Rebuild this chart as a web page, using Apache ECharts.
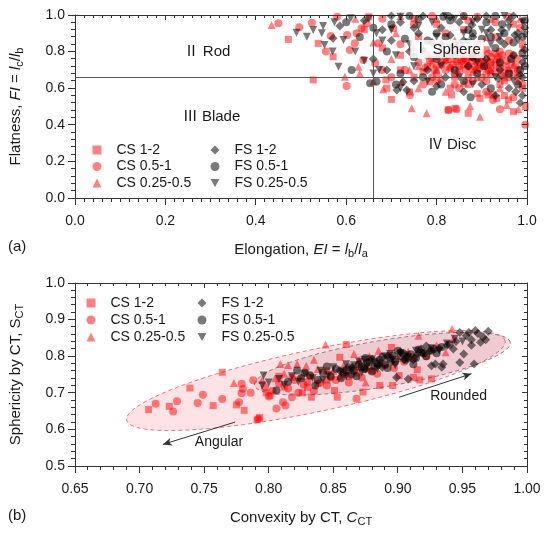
<!DOCTYPE html>
<html>
<head>
<meta charset="utf-8">
<script src="https://cdn.jsdelivr.net/npm/echarts@6/dist/echarts.min.js"></script>
<style>
  html, body { margin: 0; padding: 0; background: #fff; }
  #chart { width: 550px; height: 533px; }
</style>
</head>
<body>
<div id="chart"></div>
<script>
// ---- panel (a): elongation vs flatness ----
const ticksElong = [0, 0.2, 0.4, 0.6, 0.8, 1.0];
const ticksFlat = [0, 0.2, 0.4, 0.6, 0.8, 1.0];
const shapeCS12 = [
  [0.472,0.867],[0.527,0.645],[0.538,0.845],[0.571,0.772],[0.64,0.92],[0.68,0.82],[0.688,0.645],[0.69,0.60],
  [0.70,0.539],[0.72,0.70],[0.72,0.78],[0.74,0.58],[0.75,0.66],[0.76,0.88],[0.78,0.72],[0.785,0.635],
  [0.80,0.68],[0.80,0.95],[0.82,0.75],[0.826,0.481],[0.83,0.60],[0.833,0.563],[0.841,0.49],[0.84,0.82],
  [0.85,0.70],[0.86,0.92],[0.87,0.463],[0.87,0.62],[0.88,0.78],[0.89,0.57],[0.896,0.545],[0.90,0.66],
  [0.91,0.81],[0.914,0.563],[0.92,0.72],[0.933,0.545],[0.93,0.88],[0.94,0.62],[0.95,0.56],[0.959,0.536],
  [0.96,0.70],[0.97,0.472],[0.97,0.95],[0.98,0.76],[0.99,0.60],[0.99,0.84],[0.996,0.50],
  [0.77,0.69],[0.81,0.73],[0.84,0.66],[0.86,0.76],[0.88,0.70],[0.90,0.74],[0.92,0.68],[0.94,0.76],
  [0.95,0.64],[0.97,0.68],[0.83,0.79],[0.87,0.81],[0.79,0.76],[0.93,0.79],[0.65,0.99],[0.75,0.98]
];
const shapeCS051 = [
  [0.45,0.955],[0.496,0.933],[0.524,0.958],[0.555,0.80],[0.566,0.885],[0.601,0.612],[0.602,0.891],[0.608,0.809],
  [0.619,0.845],[0.623,0.90],[0.634,0.927],[0.638,0.754],[0.645,0.954],[0.664,0.736],[0.671,0.845],[0.68,0.70],
  [0.70,0.66],[0.704,0.927],[0.72,0.84],[0.73,0.70],[0.741,0.563],[0.75,0.95],[0.76,0.74],[0.77,0.62],
  [0.78,0.78],[0.79,0.66],[0.80,0.72],[0.81,0.80],[0.82,0.70],[0.82,0.90],[0.826,0.481],[0.83,0.76],
  [0.835,0.73],[0.84,0.68],[0.844,0.485],[0.85,0.79],[0.85,0.60],[0.855,0.75],[0.86,0.73],[0.865,0.70],
  [0.87,0.66],[0.87,0.97],[0.875,0.77],[0.88,0.75],[0.885,0.72],[0.89,0.70],[0.89,0.84],[0.90,0.78],
  [0.905,0.74],[0.91,0.64],[0.91,0.58],[0.915,0.70],[0.92,0.74],[0.925,0.536],[0.925,0.563],[0.93,0.69],
  [0.93,0.96],[0.935,0.77],[0.94,0.80],[0.94,0.485],[0.945,0.67],[0.95,0.72],[0.96,0.66],[0.96,0.86],
  [0.965,0.74],[0.97,0.78],[0.97,0.55],[0.98,0.70],[0.985,0.93],[0.99,0.62],[0.996,0.40],
  [0.775,0.71],[0.785,0.75],[0.795,0.70],[0.805,0.77],[0.815,0.74],[0.825,0.78],[0.83,0.71],[0.845,0.745],
  [0.85,0.72],[0.86,0.78],[0.865,0.75],[0.87,0.72],[0.88,0.79],[0.885,0.76],[0.89,0.74],[0.895,0.71],
  [0.90,0.76],[0.91,0.72],[0.915,0.79],[0.92,0.77],[0.93,0.73],[0.94,0.71],[0.945,0.78],[0.955,0.75],
  [0.96,0.79],[0.975,0.72],[0.98,0.66],[0.84,0.62],[0.88,0.64],[0.91,0.68],[0.95,0.68],[0.80,0.64],
  [0.68,0.98],[0.58,0.99],[0.79,0.995],[0.89,0.99],[0.96,0.99]
];
const shapeCS02505 = [
  [0.435,0.945],[0.597,0.663],[0.62,0.98],[0.627,0.717],[0.63,0.681],[0.66,0.636],[0.66,0.85],[0.682,0.594],
  [0.70,0.76],[0.71,0.90],[0.723,0.636],[0.74,0.70],[0.745,0.49],[0.745,0.827],[0.76,0.60],[0.77,0.82],
  [0.778,0.463],[0.79,0.74],[0.80,0.98],[0.81,0.66],[0.82,0.58],[0.83,0.72],[0.84,0.86],[0.845,0.76],
  [0.86,0.77],[0.86,0.63],[0.874,0.503],[0.88,0.69],[0.89,0.80],[0.896,0.444],[0.90,0.73],[0.91,0.88],
  [0.915,0.76],[0.92,0.98],[0.93,0.76],[0.94,0.60],[0.95,0.66],[0.955,0.508],[0.97,0.73],[0.981,0.485],
  [0.985,0.98],[0.99,0.82],
  [0.80,0.70],[0.82,0.76],[0.85,0.68],[0.87,0.74],[0.89,0.66],[0.92,0.70],[0.94,0.74],[0.96,0.71],
  [0.98,0.64],[0.76,0.72],[0.72,0.995],[0.86,0.995]
];
const shapeFS12 = [
  [0.571,0.873],[0.586,0.94],[0.64,0.97],[0.66,0.76],[0.68,0.92],[0.69,0.70],[0.70,0.86],[0.712,0.59],
  [0.72,0.96],[0.726,0.634],[0.734,0.59],[0.74,0.80],[0.75,0.64],[0.76,0.90],[0.78,0.70],[0.79,0.85],
  [0.80,0.61],[0.81,0.93],[0.82,0.66],[0.83,0.89],[0.84,0.78],[0.85,0.96],[0.86,0.58],[0.87,0.72],
  [0.878,0.945],[0.88,0.88],[0.89,0.98],[0.90,0.62],[0.91,0.76],[0.92,0.92],[0.93,0.56],[0.937,0.654],
  [0.944,0.918],[0.94,0.70],[0.95,0.84],[0.96,0.60],[0.96,0.97],[0.97,0.78],[0.973,0.891],[0.975,0.58],
  [0.98,0.90],[0.985,0.672],[0.985,0.52],[0.99,0.66],[0.99,0.74],
  [0.70,0.995],[0.77,0.995],[0.83,0.99],[0.91,0.995],[0.97,0.995],[0.995,0.93],[0.995,0.81],[0.99,0.56],
  [0.86,0.86],[0.94,0.86],[0.81,0.84],[0.75,0.93]
];
const shapeFS051 = [
  [0.60,0.96],[0.612,0.70],[0.63,0.88],[0.653,0.627],[0.66,0.93],[0.667,0.636],[0.69,0.80],[0.70,0.95],
  [0.71,0.62],[0.72,0.68],[0.73,0.87],[0.75,0.77],[0.76,0.98],[0.77,0.66],[0.78,0.86],[0.79,0.58],
  [0.80,0.76],[0.81,0.62],[0.815,0.99],[0.82,0.88],[0.83,0.97],[0.84,0.70],[0.85,0.84],[0.86,0.64],
  [0.87,0.92],[0.875,0.55],[0.88,0.77],[0.89,0.68],[0.90,0.87],[0.905,0.72],[0.91,0.96],[0.92,0.60],
  [0.93,0.82],[0.94,0.74],[0.945,0.95],[0.95,0.90],[0.96,0.68],[0.965,0.76],[0.97,0.85],[0.98,0.62],
  [0.985,0.70],[0.99,0.79],[0.99,0.88],
  [0.74,0.995],[0.86,0.995],[0.93,0.995],[0.995,0.97],[0.995,0.72],[0.88,0.90],[0.92,0.88],[0.80,0.90]
];
const shapeFS02505 = [
  [0.49,0.903],[0.513,0.881],[0.527,0.918],[0.546,0.90],[0.549,0.94],[0.552,0.836],[0.57,0.80],[0.574,0.96],
  [0.583,0.717],[0.594,0.863],[0.61,0.982],[0.62,0.80],[0.64,0.75],[0.65,0.98],[0.66,0.68],[0.667,0.90],
  [0.673,0.70],[0.68,0.86],[0.70,0.92],[0.71,0.78],[0.72,0.99],[0.72,0.60],[0.74,0.84],[0.75,0.72],
  [0.76,0.94],[0.77,0.80],[0.78,0.64],[0.79,0.96],[0.80,0.88],[0.81,0.72],[0.83,0.82],[0.84,0.98],
  [0.85,0.66],[0.86,0.90],[0.88,0.96],[0.88,0.62],[0.89,0.74],[0.90,0.92],[0.92,0.84],[0.93,0.66],
  [0.94,0.88],[0.96,0.93],[0.97,0.64],[0.98,0.86],[0.99,0.96],
  [0.82,0.995],[0.95,0.995],[0.995,0.89],[0.995,0.76],[0.87,0.85],[0.91,0.90]
];

// ---- panel (b): convexity vs sphericity ----
const ticksConvex = [0.65, 0.70, 0.75, 0.80, 0.85, 0.90, 0.95, 1.00];
const ticksSpher = [0.5, 0.6, 0.7, 0.8, 0.9, 1.0];
const ctCS12 = [
  [0.707,0.654],[0.723,0.663],[0.739,0.713],[0.757,0.665],[0.764,0.756],[0.775,0.667],[0.781,0.652],[0.791,0.626],
  [0.793,0.632],[0.798,0.700],[0.801,0.693],[0.808,0.745],[0.812,0.716],[0.818,0.742],[0.826,0.700],[0.830,0.715],
  [0.833,0.688],[0.838,0.725],[0.845,0.735],[0.845,0.760],[0.851,0.706],[0.853,0.688],[0.855,0.797],[0.860,0.832],
  [0.862,0.745],[0.870,0.772],[0.873,0.702],[0.880,0.760],[0.886,0.720],[0.895,0.824],[0.896,0.720],[0.901,0.747],
  [0.912,0.742],[0.915,0.763],[0.917,0.735],[0.926,0.738]
];
const ctCS051 = [
  [0.7125,0.670],[0.726,0.649],[0.729,0.677],[0.745,0.672],[0.749,0.695],[0.764,0.683],[0.777,0.674],[0.779,0.725],
  [0.780,0.711],[0.779,0.699],[0.786,0.700],[0.788,0.734],[0.792,0.629],[0.797,0.715],[0.800,0.690],[0.803,0.705],
  [0.806,0.657],[0.808,0.725],[0.811,0.674],[0.813,0.665],[0.815,0.712],[0.818,0.688],[0.820,0.735],[0.823,0.700],
  [0.827,0.722],[0.830,0.730],[0.832,0.745],[0.835,0.705],[0.840,0.728],[0.845,0.720],[0.848,0.742],[0.852,0.735],
  [0.858,0.750],[0.862,0.728],[0.868,0.684],[0.868,0.755],[0.872,0.742],[0.878,0.765],[0.884,0.752],[0.890,0.775],
  [0.897,0.768],[0.905,0.785],[0.912,0.795],[0.922,0.800]
];
const ctCS02505 = [
  [0.773,0.727],[0.795,0.735],[0.805,0.740],[0.809,0.779],[0.812,0.752],[0.815,0.776],[0.822,0.779],[0.825,0.745],
  [0.829,0.774],[0.835,0.790],[0.838,0.765],[0.844,0.832],[0.850,0.760],[0.855,0.745],[0.858,0.775],[0.866,0.806],
  [0.870,0.790],[0.875,0.728],[0.878,0.800],[0.885,0.815],[0.893,0.805],[0.900,0.795],[0.908,0.812],[0.916,0.856],
  [0.925,0.822],[0.930,0.830],[0.937,0.811],[0.942,0.874],[0.943,0.847]
];
const ctFS12 = [
  [0.855,0.760],[0.865,0.770],[0.875,0.765],[0.885,0.775],[0.892,0.800],[0.895,0.785],[0.899,0.742],[0.905,0.790],
  [0.908,0.738],[0.915,0.805],[0.918,0.820],[0.925,0.815],[0.926,0.774],[0.929,0.779],[0.934,0.770],[0.935,0.779],
  [0.938,0.830],[0.943,0.820],[0.945,0.840],[0.948,0.783],[0.948,0.865],[0.951,0.806],[0.953,0.856],[0.955,0.865],
  [0.957,0.830],[0.957,0.845],[0.959,0.779],[0.960,0.870],[0.962,0.862],[0.964,0.838],[0.966,0.852],[0.968,0.845],
  [0.970,0.868],[0.880,0.792],[0.888,0.770],[0.902,0.812],[0.912,0.790],[0.922,0.828],[0.932,0.822]
];
const ctFS051 = [
  [0.806,0.706],[0.815,0.730],[0.822,0.761],[0.825,0.740],[0.828,0.755],[0.832,0.748],[0.836,0.720],[0.838,0.735],
  [0.842,0.755],[0.845,0.772],[0.848,0.745],[0.852,0.765],[0.856,0.740],[0.858,0.755],[0.862,0.770],[0.866,0.760],
  [0.868,0.745],[0.870,0.778],[0.874,0.765],[0.875,0.795],[0.878,0.785],[0.880,0.758],[0.882,0.772],[0.886,0.790],
  [0.890,0.778],[0.892,0.768],[0.894,0.795],[0.898,0.785],[0.900,0.815],[0.902,0.800],[0.906,0.790],[0.910,0.805],
  [0.912,0.778],[0.914,0.795],[0.918,0.810],[0.922,0.800],[0.926,0.815],[0.930,0.808],[0.934,0.825],[0.940,0.832],
  [0.860,0.762],[0.864,0.750],[0.872,0.770],[0.876,0.782],[0.884,0.780],[0.888,0.798],[0.896,0.802],[0.904,0.808],
  [0.908,0.795],[0.916,0.818],[0.920,0.808],[0.928,0.820]
];
const ctFS02505 = [
  [0.795,0.720],[0.796,0.747],[0.800,0.728],[0.808,0.738],[0.812,0.722],[0.818,0.745],[0.823,0.730],[0.828,0.752],
  [0.834,0.740],[0.840,0.760],[0.842,0.735],[0.846,0.748],[0.850,0.770],[0.856,0.758],[0.860,0.745],[0.860,0.778],
  [0.864,0.764],[0.870,0.785],[0.872,0.755],[0.876,0.772],[0.880,0.792],[0.884,0.765],[0.886,0.780],[0.890,0.800],
  [0.896,0.790],[0.898,0.775],[0.902,0.808],[0.908,0.798],[0.914,0.815],[0.920,0.805],[0.926,0.822],[0.932,0.815],
  [0.938,0.835],[0.944,0.848],[0.950,0.840],[0.866,0.775],[0.874,0.790],[0.882,0.785],[0.894,0.806],[0.906,0.802]
];

// confidence ellipses: centre, semi-major vector (a), semi-minor vector (b), in data units
const ellipseCS = { cx: 0.8365, cy: 0.7335, ax: 0.1465, ay: 0.1085, bx: -0.0049, by: 0.083 };
const ellipseFS = { cx: 0.888, cy: 0.7795, ax: 0.099, ay: 0.0585, bx: -0.0030, by: 0.0625 };

const FONT = 'Liberation Sans, Arial, sans-serif';
const RED = 'rgba(255,0,0,0.62)';
const BLACK = 'rgba(0,0,0,0.66)';
const TXT = '#1a1a1a';
const AXC = '#333';
const TRI_DOWN = 'path://M0,0L10,0L5,8.66Z';
const GRID_A = { left: 75, top: 15, width: 452, height: 183 };
const GRID_B = { left: 75, top: 283, width: 452, height: 183 };

const richName = {
  i: { fontStyle: 'italic', fontSize: 15, fontFamily: FONT, color: TXT },
  sub: { fontSize: 11, fontFamily: FONT, color: TXT, padding: [8, 0, 0, 0] }
};

function baseAxis(grid, pos, ticks, digits, name, nameGap) {
  const isY = pos === 'left';
  return {
    type: 'value', gridIndex: grid, position: pos,
    min: ticks[0], max: ticks[ticks.length - 1], interval: ticks[1] - ticks[0],
    name: name, nameLocation: 'middle', nameGap: nameGap, nameRotate: isY ? 90 : 0,
    nameTextStyle: { fontSize: 15, fontFamily: FONT, color: TXT, rich: richName },
    axisLine: { show: true, onZero: false, lineStyle: { color: AXC, width: 1 } },
    axisTick: { show: false }, minorTick: { show: false },
    axisLabel: { fontSize: 14, fontFamily: FONT, color: TXT, margin: isY ? 10 : 16,
      formatter: function (v) { return v.toFixed(digits); } },
    splitLine: { show: false }
  };
}
function mirrorAxis(grid, pos, ticks) {
  return {
    type: 'value', gridIndex: grid, position: pos,
    min: ticks[0], max: ticks[ticks.length - 1], interval: ticks[1] - ticks[0],
    axisLine: { show: true, onZero: false, lineStyle: { color: AXC, width: 1 } },
    axisTick: { show: false }, minorTick: { show: false },
    axisLabel: { show: false }, splitLine: { show: false }
  };
}

function subdivide(ticks, n) {
  const out = [];
  for (let i = 0; i < ticks.length - 1; i++) {
    for (let k = 1; k < n; k++) out.push(ticks[i] + (ticks[i + 1] - ticks[i]) * k / n);
  }
  return out;
}

function scatter(name, data, symbol, size, color, idx) {
  return {
    name: name, type: 'scatter', data: data, xAxisIndex: idx, yAxisIndex: idx,
    symbol: symbol, symbolSize: size,
    itemStyle: { color: color }, silent: true, z: 3
  };
}

const ellipses = [ellipseCS, ellipseFS];
const ellipseLook = [
  { fill: 'rgba(250,40,60,0.13)', stroke: 'rgba(240,90,100,0.85)' },
  { fill: 'rgba(180,105,118,0.2)', stroke: 'rgba(120,120,120,0.9)' }
];

const chart = echarts.init(document.getElementById('chart'), null, { renderer: 'canvas' });

const sA = [
  scatter('CS 1-2', shapeCS12, 'rect', 7, RED, 0),
  scatter('CS 0.5-1', shapeCS051, 'circle', 8, RED, 0),
  scatter('CS 0.25-0.5', shapeCS02505, 'triangle', 8, RED, 0),
  scatter('FS 1-2', shapeFS12, 'diamond', 9, BLACK, 0),
  scatter('FS 0.5-1', shapeFS051, 'circle', 8, BLACK, 0),
  scatter('FS 0.25-0.5', shapeFS02505, TRI_DOWN, 8, BLACK, 0)
];
sA[0].markLine = {
  silent: true, symbol: 'none', label: { show: false },
  lineStyle: { color: '#555', width: 1, type: 'solid' },
  data: [{ xAxis: 0.66 }, { yAxis: 0.66 }]
};
const regionLabel = { fontSize: 15, fontFamily: FONT, color: TXT,
  rich: { r: { fontSize: 15, fontFamily: 'Liberation Serif, Noto Sans CJK SC, serif', color: TXT } } };
sA[0].markPoint = {
  silent: true, symbol: 'circle', symbolSize: 0, z: 6,
  label: Object.assign({ show: true, position: 'inside' }, regionLabel),
  data: [
    { coord: [0.292, 0.80], label: { formatter: '{r|Ⅱ} Rod' } },
    { coord: [0.302, 0.441], label: { formatter: '{r|Ⅲ} Blade' } },
    { coord: [0.823, 0.814], label: { formatter: '{r|Ⅰ} Sphere', backgroundColor: 'rgba(255,255,255,0.85)', padding: [2, 3, 1, 3] } },
    { coord: [0.834, 0.29], label: { formatter: '{r|Ⅳ} Disc' } }
  ]
};

const sB = [
  scatter('CS 1-2', ctCS12, 'rect', 7, RED, 2),
  scatter('CS 0.5-1', ctCS051, 'circle', 8, RED, 2),
  scatter('CS 0.25-0.5', ctCS02505, 'triangle', 8, RED, 2),
  scatter('FS 1-2', ctFS12, 'diamond', 9, BLACK, 2),
  scatter('FS 0.5-1', ctFS051, 'circle', 8, BLACK, 2),
  scatter('FS 0.25-0.5', ctFS02505, TRI_DOWN, 8, BLACK, 2)
];
sB[0].markLine = {
  silent: true, symbol: ['none', 'arrow'], symbolSize: [6, 9], label: { show: false },
  lineStyle: { color: '#333', width: 1, type: 'solid' },
  data: [
    [{ coord: [0.774, 0.620] }, { coord: [0.718, 0.559] }],
    [{ coord: [0.901, 0.688] }, { coord: [0.957, 0.752] }]
  ]
};
sB[0].markPoint = {
  silent: true, symbol: 'circle', symbolSize: 0, z: 6,
  label: { show: true, position: 'inside', fontSize: 14, fontFamily: FONT, color: TXT },
  data: [
    { coord: [0.7615, 0.565], label: { formatter: 'Angular' } },
    { coord: [0.947, 0.690], label: { formatter: 'Rounded' } }
  ]
};

const ellipseSeries = {
  type: 'custom', xAxisIndex: 2, yAxisIndex: 2, z: 1, silent: true, clip: true,
  data: ellipses.map(function (e) { return [e.cx, e.cy]; }),
  renderItem: function (params, api) {
    const e = ellipses[params.dataIndex];
    const look = ellipseLook[params.dataIndex];
    const pts = [];
    for (let k = 0; k <= 120; k++) {
      const t = k / 120 * Math.PI * 2;
      pts.push(api.coord([
        e.cx + e.ax * Math.cos(t) + e.bx * Math.sin(t),
        e.cy + e.ay * Math.cos(t) + e.by * Math.sin(t)
      ]));
    }
    return { type: 'polygon', shape: { points: pts },
      style: { fill: look.fill, stroke: look.stroke, lineWidth: 1, lineDash: [4, 3] } };
  }
};

// marker centre sits at left + 4.5; text starts 20px right of the marker centre
function legendCol(names, left, top, gap) {
  return {
    data: names, orient: 'vertical', left: left, top: top, padding: 0,
    itemWidth: 9, itemHeight: 9, itemGap: gap, selectedMode: false,
    textStyle: { fontSize: 14, fontFamily: FONT, color: TXT, lineHeight: 14, padding: [0, 0, 0, 10] }
  };
}

const panelTags = [
  { type: 'text', left: 8, top: 239, style: { text: '(a)', fontSize: 15, fontFamily: FONT, fill: TXT } },
  { type: 'text', left: 8, top: 508, style: { text: '(b)', fontSize: 15, fontFamily: FONT, fill: TXT } }
];

const option = {
  animation: false,
  backgroundColor: '#fff',
  grid: [GRID_A, GRID_B],
  xAxis: [
    baseAxis(0, 'bottom', ticksElong, 1, 'Elongation, {i|EI} = {i|l}{sub|b}/{i|l}{sub|a}', 42),
    mirrorAxis(0, 'top', ticksElong),
    baseAxis(1, 'bottom', ticksConvex, 2, 'Convexity by CT, {i|C}{sub|CT}', 42),
    mirrorAxis(1, 'top', ticksConvex)
  ],
  yAxis: [
    baseAxis(0, 'left', ticksFlat, 1, 'Flatness, {i|FI} = {i|l}{sub|c}/{i|l}{sub|b}', 50),
    mirrorAxis(0, 'right', ticksFlat),
    baseAxis(1, 'left', ticksSpher, 1, 'Sphericity by CT, S{sub|CT}', 50),
    mirrorAxis(1, 'right', ticksSpher)
  ],
  legend: [
    legendCol(['CS 1-2', 'CS 0.5-1', 'CS 0.25-0.5'], 92.5, 143, 2.5),
    legendCol(['FS 1-2', 'FS 0.5-1', 'FS 0.25-0.5'], 210.5, 143, 2.5),
    legendCol(['CS 1-2', 'CS 0.5-1', 'CS 0.25-0.5'], 86.5, 296, 3),
    legendCol(['FS 1-2', 'FS 0.5-1', 'FS 0.25-0.5'], 197.5, 296, 3)
  ],
  graphic: panelTags,
  series: [ellipseSeries].concat(sA, sB)
};

chart.setOption(option);

// tick marks on the same linear scale as the grid: outward on bottom/left, inward on top/right
function tickLines(g, xt, yt, xMinorN, yMinorN) {
  const x0 = xt[0], x1 = xt[xt.length - 1], y0 = yt[0], y1 = yt[yt.length - 1];
  const bottom = g.top + g.height, right = g.left + g.width;
  function sx(v) { return Math.floor(g.left + (v - x0) / (x1 - x0) * g.width + 1e-6) + 0.5; }
  function sy(v) { return Math.floor(bottom - (v - y0) / (y1 - y0) * g.height + 1e-6) + 0.5; }
  const els = [];
  function seg(xa, ya, xb, yb) {
    els.push({ type: 'line', silent: true, z: 100,
      shape: { x1: xa, y1: ya, x2: xb, y2: yb },
      style: { stroke: AXC, lineWidth: 1 } });
  }
  xt.forEach(function (v) { seg(sx(v), bottom, sx(v), bottom + 7); seg(sx(v), g.top, sx(v), g.top + 5); });
  subdivide(xt, xMinorN).forEach(function (v) { seg(sx(v), bottom, sx(v), bottom + 4); seg(sx(v), g.top, sx(v), g.top + 3); });
  yt.forEach(function (v) { seg(g.left, sy(v), g.left - 7, sy(v)); seg(right, sy(v), right - 5, sy(v)); });
  subdivide(yt, yMinorN).forEach(function (v) { seg(g.left, sy(v), g.left - 4, sy(v)); seg(right, sy(v), right - 3, sy(v)); });
  return els;
}

try {
  chart.setOption({
    graphic: panelTags
      .concat(tickLines(GRID_A, ticksElong, ticksFlat, 10, 5))
      .concat(tickLines(GRID_B, ticksConvex, ticksSpher, 5, 5))
  });
} catch (err) {
  // ticks are decorative; keep the chart if they cannot be added
}
</script>
</body>
</html>
